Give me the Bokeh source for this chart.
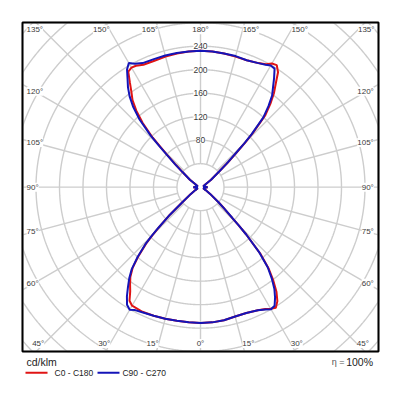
import numpy as np
from bokeh.plotting import figure
from bokeh.models import ColumnDataSource, LabelSet, Label, Range1d
from bokeh.core.properties import value
from bokeh.embed import file_html
from bokeh.resources import INLINE

# angle from the vertical axis (deg); lower hemisphere = gamma, upper = 180 - gamma
phi = [0, 5, 10, 15, 20, 25, 28, 30, 32, 34, 36, 38, 40, 42, 44, 45, 46, 48, 50, 55, 60, 70, 80, 90]

# C0 - C180 (red), cd/klm
red_lower_right = [231, 231, 230, 228, 228, 231, 235, 239, 242, 234, 220, 201, 180, 152, 112, 92, 75, 55, 40, 20, 10, 5, 7, 12]
red_upper_right = [232, 232, 231, 230, 230, 233, 237, 243, 245, 236, 218, 203, 185, 165, 128, 108, 88, 62, 42, 22, 10, 5, 7, 12]
red_upper_left = [232, 232, 231, 230, 229, 230, 234, 235, 232, 215, 200, 188, 170, 147, 117, 95, 78, 55, 40, 22, 10, 5, 7, 12]
red_lower_left = [231, 231, 231, 232, 233, 234, 233, 233, 228, 214, 204, 194, 180, 158, 133, 116, 98, 70, 42, 20, 10, 5, 7, 12]

# C90 - C270 (blue), cd/klm
blue_lower_right = [231, 231, 230, 228, 228, 231, 236, 240, 238, 227, 214, 197, 178, 150, 112, 92, 75, 54, 40, 20, 10, 5, 7, 12]
blue_upper_right = [232, 232, 231, 231, 230, 233, 236, 239, 238, 224, 210, 198, 180, 160, 125, 105, 85, 60, 42, 22, 10, 5, 7, 12]
blue_upper_left = [232, 232, 232, 232, 232, 233, 238, 244, 236, 222, 210, 196, 178, 155, 122, 100, 82, 58, 40, 22, 10, 5, 7, 12]
blue_lower_left = [231, 231, 231, 232, 233, 235, 237, 241, 236, 224, 210, 197, 182, 160, 135, 118, 100, 70, 42, 20, 10, 5, 7, 12]

ring_values = [40, 80, 120, 160, 200, 240, 280, 320, 360, 400, 440]
ring_labels = ["80", "120", "160", "200", "240"]
angle_step = 15
series_names = ["C0 - C180", "C90 - C270"]
unit_text = "cd/klm"
eff_text = "100%"

GRID = "#cdcdcd"
TXT = "#3a3a3a"
FONT = "Liberation Sans"
RED = "#e01414"
BLUE = "#1414b8"

# polar box (data units, 1 unit = 0.5875 px)
BX0, BX1, BY0, BY1 = -303.0, 303.0, -279.7, 280.3


def loop(lr, ur, ul, ll):
    a = np.radians(phi)
    lr, ur, ul, ll = map(np.asarray, (lr, ur, ul, ll))
    xs = np.concatenate([lr * np.sin(a), (ur * np.sin(a))[::-1], -ul * np.sin(a), (-ll * np.sin(a))[::-1]])
    ys = np.concatenate([-lr * np.cos(a), (ur * np.cos(a))[::-1], ul * np.cos(a), (-ll * np.cos(a))[::-1]])
    return np.append(xs, xs[0]), np.append(ys, ys[0])


p = figure(frame_width=360, frame_height=370, output_backend="svg", toolbar_location=None,
           x_range=Range1d(-306.4, 306.4), y_range=Range1d(-346.1, 283.7),
           x_axis_type=None, y_axis_type=None,
           min_border_left=20, min_border_top=20, min_border_right=10, min_border_bottom=2)
p.outline_line_color = None
p.background_fill_color = "white"
p.border_fill_color = "white"

# grid rings, clipped to the polar box
t = np.radians(np.arange(0, 360.01, 0.25))
ring_xs, ring_ys = [], []
for r in ring_values:
    ring_xs.append(np.clip(r * np.cos(t), BX0, BX1))
    ring_ys.append(np.clip(r * np.sin(t), BY0, BY1))
p.multi_line(ring_xs, ring_ys, line_color=GRID, line_width=1.4, level="underlay")

# radial lines from the first ring to the box edge
angs = np.radians(np.arange(0, 360, angle_step))
dxs, dys = np.sin(angs), -np.cos(angs)
r0 = ring_values[0]
x1, y1 = [], []
for dx, dy in zip(dxs, dys):
    tt = min(BX1 / abs(dx) if abs(dx) > 1e-9 else 1e9,
             (BY1 if dy > 0 else -BY0) / abs(dy) if abs(dy) > 1e-9 else 1e9)
    x1.append(tt * dx); y1.append(tt * dy)
p.segment(x0=r0 * dxs, y0=r0 * dys, x1=x1, y1=y1, line_color=GRID, line_width=1.4, level="underlay")

# angle labels
XS, YT, YB, XL, XR = 283.0, 268.0, -266.0, -296.0, 295.0
lx, ly, lt, la = [], [], [], []
for g in range(0, 360, angle_step):
    gr = np.radians(g)
    dx, dy = np.sin(gr), -np.cos(gr)
    gamma = g if g <= 180 else 360 - g
    if abs(dy) < 1e-9 or abs(dx) / abs(dy) > XS / YT:
        ly.append(XS * dy / abs(dx))
        if dx < 0:
            lx.append(XL); la.append("left")
        else:
            lx.append(XR); la.append("right")
    else:
        yy = YT if dy > 0 else YB
        lx.append(yy * dx / dy); ly.append(yy)
        la.append("center" if abs(dx) < 1e-9 else ("right" if dx < 0 else "left"))
    lt.append(f"{gamma}°")

ang_src = ColumnDataSource(dict(x=lx, y=ly, t=lt, a=la))
p.add_layout(LabelSet(x="x", y="y", text="t", source=ang_src, text_align="a", text_baseline="middle",
                      text_font=value(FONT), text_font_size="8px", text_color=TXT,
                      background_fill_color="white", level="underlay"))

ring_src = ColumnDataSource(dict(x=[0] * len(ring_labels), y=[float(v) for v in ring_labels], t=ring_labels))
p.add_layout(LabelSet(x="x", y="y", text="t", source=ring_src, text_align="center", text_baseline="middle",
                      text_font=value(FONT), text_font_size="8.5px", text_color=TXT,
                      background_fill_color="white", level="underlay"))

# curves
rx, ry = loop(red_lower_right, red_upper_right, red_upper_left, red_lower_left)
bx, by = loop(blue_lower_right, blue_upper_right, blue_upper_left, blue_lower_left)
p.line(rx, ry, line_color=RED, line_width=2)
p.line(bx, by, line_color=BLUE, line_width=2)

# polar box border
p.quad(left=[BX0], right=[BX1], bottom=[BY0], top=[BY1], fill_color=None,
       line_color="black", line_width=2)

# legend below the box
LY = -315.9
p.line([-297.9, -260.4], [LY, LY], line_color=RED, line_width=2)
p.line([-175.3, -137.9], [LY, LY], line_color=BLUE, line_width=2)
p.add_layout(Label(x=-248.5, y=LY, text=series_names[0], text_baseline="middle",
                   text_font=FONT, text_font_size="8.5px", text_color="#222222"))
p.add_layout(Label(x=-132.8, y=LY, text=series_names[1], text_baseline="middle",
                   text_font=FONT, text_font_size="8.5px", text_color="#222222"))
p.add_layout(Label(x=-296.2, y=-298.4, text=unit_text, text_baseline="middle",
                   text_font=FONT, text_font_size="10.5px", text_color="#222222"))
p.add_layout(Label(x=293.6, y=-298.4, text=eff_text, text_align="right", text_baseline="middle",
                   text_font=FONT, text_font_size="10.5px", text_color="#222222"))
p.add_layout(Label(x=245.1, y=-298.4, text="η =", text_align="right", text_baseline="middle",
                   text_font=FONT, text_font_size="9px", text_color="#555555"))

open("out.html", "w").write(file_html(p, INLINE))
